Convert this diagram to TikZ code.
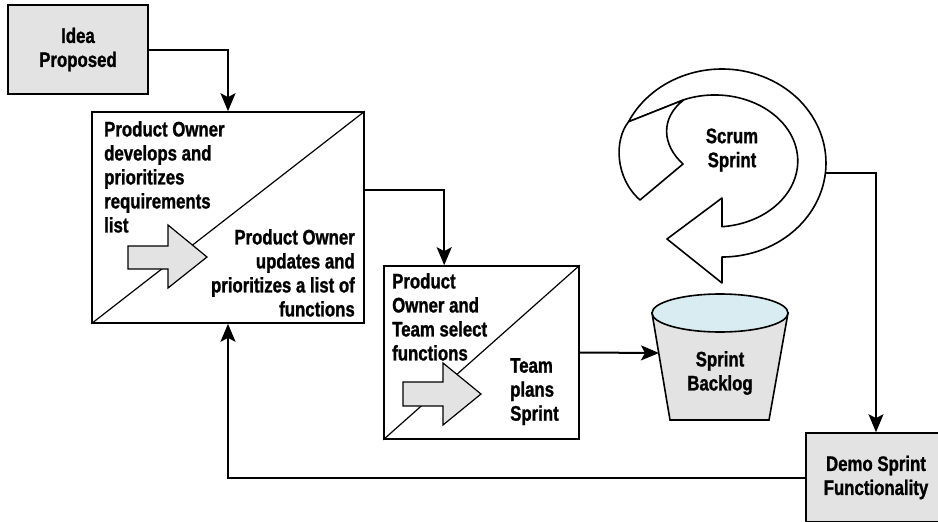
\documentclass[tikz,border=0pt]{standalone}
\usepackage{fontspec}
\newfontfamily\diagfont{Liberation Sans}[FakeStretch=0.8, BoldFeatures={FakeBold=1.2}]
\usetikzlibrary{positioning,arrows.meta}
\definecolor{boxgray}{HTML}{E3E3E3}
\definecolor{waterblue}{HTML}{D8ECF1}

\begin{document}
\begin{tikzpicture}[
  x=1pt, y=-1pt,
  font={\diagfont\bfseries\fontsize{21}{24}\selectfont},
  graybox/.style={draw, line width=1.6pt, fill=boxgray, align=center,
                  minimum width=140pt, minimum height=89pt, inner sep=0pt},
  splitbox/.style={draw, line width=1.6pt, inner sep=0pt},
  diag/.style={line width=1.2pt},
  txt/.style={align=left, inner sep=0pt},
  blockarrow/.style={draw, line width=1.2pt, fill=boxgray},
  swirl/.style={draw, line width=1.6pt, fill=white, line join=round},
  conn/.style={line width=2pt, -{Stealth[length=18pt, width=15pt, inset=4pt]}}
]
\useasboundingbox (0,0) rectangle (938,522);
\clip (0,0) rectangle (938,522);

% start
\node[graybox] (idea) at (78,49.5) {Idea\\Proposed};

% product owner stage
\node[splitbox, minimum width=272pt, minimum height=211pt] (own1) at (228,217.5) {};
\draw[diag] (own1.south west) -- (own1.north east);
\node[txt, anchor=north west] (devlist) at (104,121) {Product Owner\\develops and\\prioritizes\\requirements\\list};
\node[txt, align=right, anchor=north east] (updlist) at (355,229) {Product Owner\\updates and\\prioritizes a list of\\functions};
\draw[blockarrow] (128,246) -- (168,246) -- (168,225) -- (207,257) -- (168,288) -- (168,269) -- (128,269) -- cycle;

% planning stage
\node[splitbox, minimum width=195pt, minimum height=173pt] (own2) at (481.5,352.5) {};
\draw[diag] (own2.south west) -- (own2.north east);
\node[txt, anchor=north west] (select) at (392,273) {Product\\Owner and\\Team select\\functions};
\node[txt, anchor=north west] (plan) at (510,358) {Team\\plans\\Sprint};
\draw[blockarrow] (403,382) -- (443,382) -- (443,363) -- (481,394) -- (443,425) -- (443,406) -- (403,406) -- cycle;

% sprint backlog bucket
\draw[line width=1.6pt, fill=boxgray] (652,313) -- (670,420) -- (769,420) -- (788,313) -- cycle;
\draw[line width=1.6pt, fill=waterblue] (720,313) ellipse[x radius=68, y radius=19];
\node[align=center] (backlog) at (720,373) {Sprint\\Backlog};
\coordinate (backlogW) at (659,353);

% scrum sprint loop
\coordinate (tailA) at (628.5,121.8);
\coordinate (tailB) at (683.9,99.8);
\draw[swirl] (tailB) -- (tailA) arc[start angle=206, end angle=450, x radius=104, y radius=94]
  -- (722,283) -- (667,239) -- (722,198) -- (722,226.7)
  arc[start angle=445, end angle=248, x radius=83, y radius=66] -- cycle;
\draw[swirl] (tailA) .. controls (614,140) and (615,178) .. (640,200) -- (683,164)
  .. controls (662,145) and (660,118) .. (tailB) -- cycle;
\node[align=center] (scrum) at (732,150) {Scrum\\Sprint};
\coordinate (scrumR) at (825.4,173);

% demo
\node[graybox] (demo) at (876,477.5) {Demo Sprint\\Functionality};

% connectors
\draw[conn] (idea.east) -| (own1.north);
\draw[conn] ([yshift=27.5pt]own1.east) -| ([xshift=61pt]own2.north west);
\draw[conn] (own2.east) -- (backlogW);
\draw[conn] (scrumR) -| (demo.north);
\draw[conn] (demo.west) -| (own1.south);
\end{tikzpicture}
\end{document}
